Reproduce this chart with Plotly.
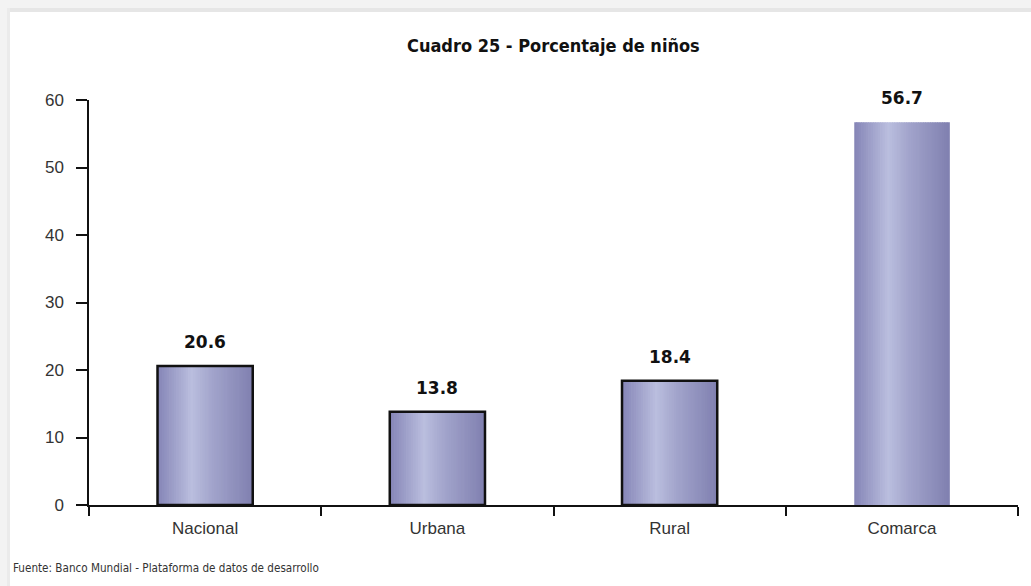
import plotly.graph_objects as go

categories = ["Nacional", "Urbana", "Rural", "Comarca"]
values = [20.6, 13.8, 18.4, 56.7]
value_labels = ["20.6", "13.8", "18.4", "56.7"]
outlined = [True, True, True, False]
y_ticks = [0, 10, 20, 30, 40, 50, 60]

title = "Cuadro 25 - Porcentaje de niños"
source = "Fuente: Banco Mundial - Plataforma de datos de desarrollo"

W, H = 1031, 586
L, R, T, B = 89, 13, 100, 81
PW, PH = W - L - R, H - T - B

def hx(px):
    return (px - L) / PW

def hy(py):
    return (H - B - py) / PH

# gradient profile across the bar (position, rgb)
stops = [(0.0, (132, 132, 182)), (0.36, (186, 190, 222)), (0.6, (160, 162, 202)), (1.0, (128, 128, 176))]

def grad(t):
    for (p0, c0), (p1, c1) in zip(stops[:-1], stops[1:]):
        if p0 <= t <= p1:
            f = (t - p0) / (p1 - p0)
            return "rgb(%d,%d,%d)" % tuple(round(a + (b - a) * f) for a, b in zip(c0, c1))
    return "rgb(%d,%d,%d)" % stops[-1][1]

bw = 0.41
N = 40
fig = go.Figure()
for i in range(N):
    t = (i + 0.5) / N
    fig.add_trace(go.Bar(
        x=categories, y=values,
        width=bw / N * 1.3, offset=-bw / 2 + i * bw / N - (bw / N) * 0.15 if i > 0 else -bw / 2,
        marker=dict(color=grad(t), line=dict(width=0)),
        hoverinfo="skip", showlegend=False,
    ))
fig.add_trace(go.Bar(
    x=categories, y=values, width=bw, offset=-bw / 2,
    marker=dict(color="rgba(0,0,0,0)",
                line=dict(width=2.5, color=["#111" if o else "rgba(0,0,0,0)" for o in outlined])),
    showlegend=False, hoverinfo="x+y",
))

annotations = []
for c, v, lab in zip(categories, values, value_labels):
    annotations.append(dict(x=c, y=v, text="<b>%s</b>" % lab, showarrow=False,
                            yshift=24, xref="x", yref="y",
                            font=dict(family="DejaVu Sans, Liberation Sans, sans-serif", size=17, color="#111")))
annotations.append(dict(x=0.5, y=hy(45), xref="paper", yref="paper", text="<b>%s</b>" % title,
                        showarrow=False, xanchor="center", yanchor="middle",
                        font=dict(family="Liberation Sans Narrow, DejaVu Sans Condensed, Liberation Sans, sans-serif",
                                  size=18, color="#111")))
annotations.append(dict(x=hx(11), y=hy(568), xref="paper", yref="paper", text=source,
                        showarrow=False, xanchor="left", yanchor="middle",
                        font=dict(family="Liberation Sans Narrow, DejaVu Sans Condensed, Liberation Sans, sans-serif",
                                  size=11.6, color="#333")))

shapes = [
    dict(type="rect", xref="paper", yref="paper", x0=hx(0), x1=hx(W + 5), y0=hy(0), y1=hy(12),
         fillcolor="#f3f3f3", line=dict(width=0), layer="below"),
    dict(type="rect", xref="paper", yref="paper", x0=hx(0), x1=hx(W + 5), y0=hy(8), y1=hy(12),
         fillcolor="#e6e6e6", line=dict(width=0), layer="below"),
    dict(type="rect", xref="paper", yref="paper", x0=hx(0), x1=hx(10), y0=hy(0), y1=hy(H + 5),
         fillcolor="#f3f3f3", line=dict(width=0), layer="below"),
    dict(type="rect", xref="paper", yref="paper", x0=hx(7), x1=hx(10), y0=hy(8), y1=hy(H + 5),
         fillcolor="#ebebeb", line=dict(width=0), layer="below"),
]

fig.update_layout(
    width=W, height=H,
    margin=dict(l=L, r=R, t=T, b=B),
    paper_bgcolor="white", plot_bgcolor="white",
    barmode="overlay",
    annotations=annotations, shapes=shapes,
    font=dict(family="Liberation Sans, Arial, sans-serif", size=17, color="#333"),
)
fig.update_xaxes(
    tickson="boundaries", ticks="outside", ticklen=9, tickwidth=1.5, tickcolor="#111",
    showline=True, linecolor="#111", linewidth=1.5, showgrid=False,
    tickfont=dict(size=17, color="#333"), ticklabelstandoff=7, fixedrange=True,
)
fig.update_yaxes(
    range=[0, 60], tickvals=y_ticks, ticks="outside", ticklen=11, tickwidth=1.5, tickcolor="#111",
    showline=True, linecolor="#111", linewidth=1.5, showgrid=False, zeroline=False,
    tickfont=dict(size=17, color="#333"), ticklabelstandoff=9, fixedrange=True,
)
fig.update_traces(cliponaxis=False)

fig.write_html("out.html", config={"displayModeBar": False},
               post_script="document.body.style.margin='0';document.body.style.overflow='hidden';")
